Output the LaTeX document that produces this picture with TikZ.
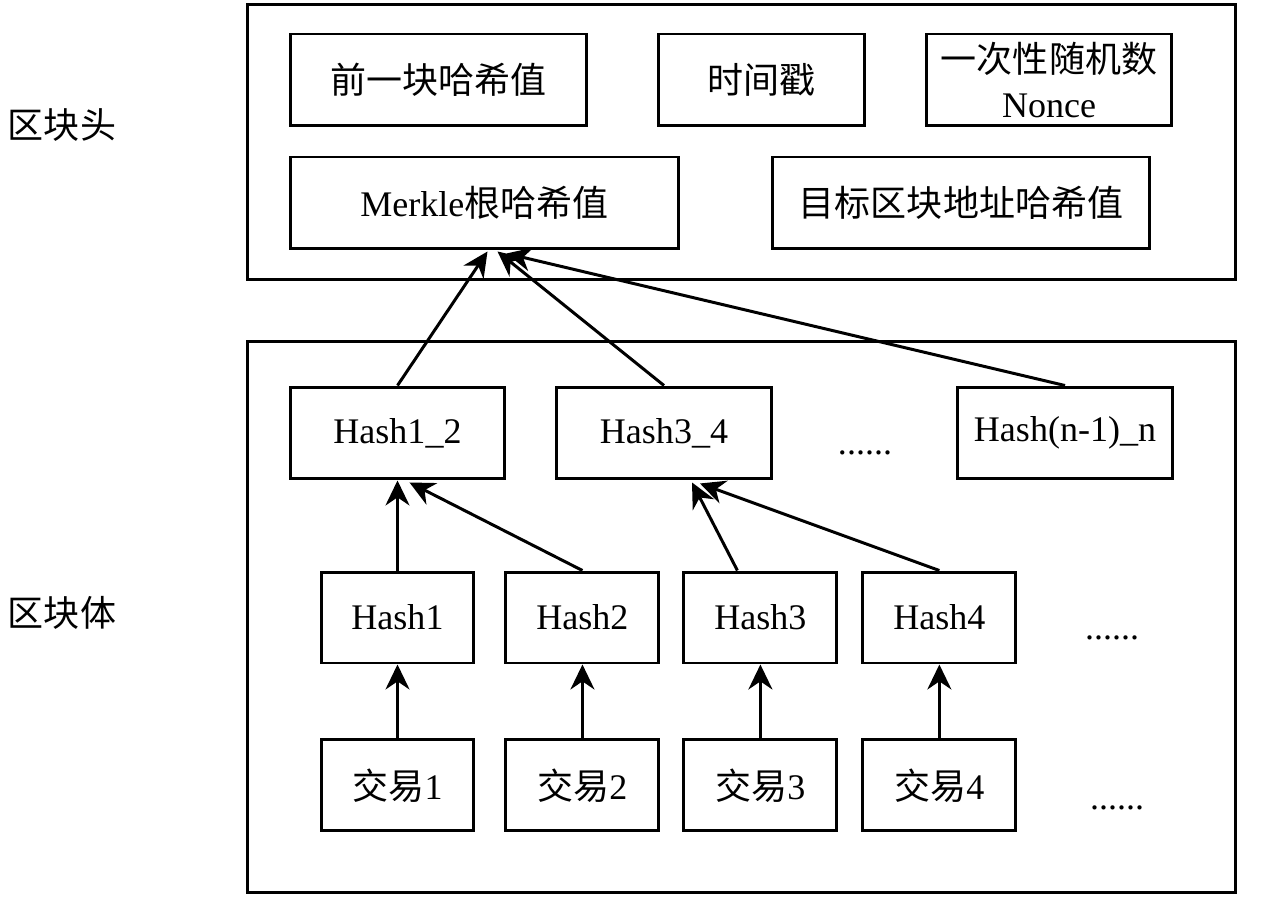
\documentclass[tikz,border=0pt]{standalone}
\usepackage{fontspec}
\setmainfont{Liberation Serif}
\newfontfamily\cjk{Noto Sans CJK SC}
\usetikzlibrary{arrows.meta,positioning,calc}

\begin{document}
\begin{tikzpicture}[x=0.02cm,y=-0.02cm,->,>={Stealth[length=0.5cm,width=0.48cm]},
        line width=1.7pt,font=\fontsize{20.5}{26}\selectfont,
        box/.style={draw,line width=1.7pt,inner sep=0pt,align=center,minimum height=1.84cm},
        hbox/.style={box,minimum width=3.06cm,minimum height=1.82cm}]
    \useasboundingbox (0,0) rectangle (1264,898);

    % frames and side labels
    \node[box,minimum width=19.78cm,minimum height=5.52cm] (head) at (741.5,142) {};
    \node[box,minimum width=19.78cm,minimum height=11.04cm] (body) at (741.5,617) {};
    \node (lhead) at (62,125) {\cjk 区块头};
    \node (lbody) at (62,613) {\cjk 区块体};

    % block header
    \node[box,minimum width=5.94cm] (prev) at (438.5,80) {\cjk 前一块哈希值};
    \node[box,minimum width=4.14cm] (time) at (761.5,80) {\cjk 时间戳};
    \node[box,minimum width=4.92cm] (nonce) at (1049,80) {{\cjk 一次性随机数}\\Nonce};
    \node[box,minimum width=7.78cm] (merkle) at (484.5,203) {Merkle{\cjk 根哈希值}};
    \node[box,minimum width=7.56cm] (target) at (961,203) {\cjk 目标区块地址哈希值};

    % block body
    \node[box,minimum width=4.3cm] (h12) at (397.5,433) {Hash1\_2};
    \node[box,minimum width=4.3cm] (h34) at (664,433) {Hash3\_4};
    \node[box,minimum width=4.3cm] (hn) at (1065,433) {Hash(n-1)\_n};
    \node (dots1) at (865,453) {......};

    \node[hbox] (hash1) at (397.5,617.5) {Hash1};
    \node[hbox] (hash2) [right=0.58cm of hash1] {Hash2};
    \node[hbox] (hash3) [right=0.44cm of hash2] {Hash3};
    \node[hbox] (hash4) [right=0.46cm of hash3] {Hash4};
    \node (dots2) at (1112,638) {......};

    \foreach \i in {1,...,4}
        \node[hbox] (tx\i) [below=1.48cm of hash\i] {{\cjk 交易}\i};
    \node (dots3) at (1117,808) {......};

    \foreach \i in {1,...,4}
        \draw (tx\i) -- (hash\i);

    \draw (hash1) -- (h12);
    \draw (hash2.north) -- ($(h12.south)+(12,2)$);
    \draw ($(hash3.north)+(-23,0)$) -- ($(h34.south)+(28,2)$);
    \draw (hash4.north) -- ($(h34.south)+(36,3)$);

    \draw (h12.north) -- ($(merkle.south)+(3,1)$);
    \draw (h34.north) -- ($(merkle.south)+(13,1)$);
    \draw (hn.north) -- ($(merkle.south)+(22,3)$);
\end{tikzpicture}
\end{document}
